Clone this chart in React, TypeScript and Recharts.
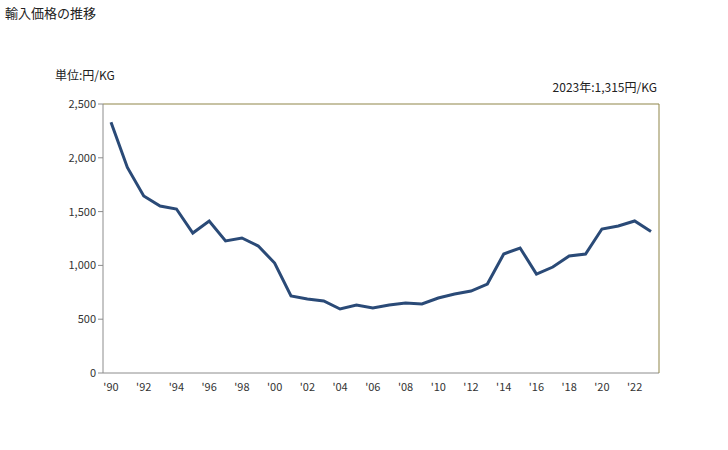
import { LineChart, Line, XAxis, YAxis } from "recharts"

// 輸入価格 (円/KG)
const years = [
  "1990", "1991", "1992", "1993", "1994", "1995", "1996", "1997", "1998", "1999",
  "2000", "2001", "2002", "2003", "2004", "2005", "2006", "2007", "2008", "2009",
  "2010", "2011", "2012", "2013", "2014", "2015", "2016", "2017", "2018", "2019",
  "2020", "2021", "2022", "2023",
]
const prices = [
  2330, 1910, 1645, 1552, 1524, 1301, 1413, 1227, 1255, 1180,
  1022, 716, 688, 670, 595, 632, 604, 632, 650, 641,
  697, 734, 762, 827, 1106, 1162, 920, 985, 1087, 1106,
  1338, 1366, 1413, 1315,
]
const yTicks = [0, 500, 1000, 1500, 2000, 2500]

const data = years.map((year, i) => ({ year, price: prices[i] }))

const font = "'Noto Sans CJK JP', 'Noto Sans', sans-serif"
const axisGray = "#8c8c8c"
const olive = "#8f8548"

export default function App() {
  return (
    <div style={{ position: "absolute", left: 0, top: 0, width: 728, height: 450, background: "#fff", fontFamily: font }}>
      <div style={{ position: "absolute", left: 5, top: 3, fontSize: 13, color: "#222" }}>輸入価格の推移</div>
      <div style={{ position: "absolute", left: 55, top: 66, fontSize: 12, color: "#222" }}>単位:円/KG</div>
      <div style={{ position: "absolute", right: 71, top: 78, fontSize: 12, color: "#222" }}>2023年:1,315円/KG</div>
      <LineChart width={728} height={450} data={data} margin={{ top: 103, right: 68, bottom: 47, left: 53 }}>
        <XAxis
          dataKey="year"
          interval={1}
          tickFormatter={(v) => "'" + String(v).slice(2)}
          tickLine={false}
          stroke={axisGray}
          tick={{ fontSize: 11, fill: "#333", fontFamily: font }}
          padding={{ left: 8, right: 8 }}
          height={30}
          tickMargin={4}
        />
        <XAxis
          xAxisId="top"
          orientation="top"
          dataKey="year"
          height={1}
          tick={false}
          tickLine={false}
          axisLine={{ stroke: olive }}
          padding={{ left: 8, right: 8 }}
        />
        <YAxis
          domain={[0, 2500]}
          ticks={yTicks}
          tickFormatter={(v) => Number(v).toLocaleString("en-US")}
          stroke={axisGray}
          tickSize={5}
          width={50}
          tick={{ fontSize: 11, fill: "#333", fontFamily: font }}
        />
        <YAxis
          yAxisId="right"
          orientation="right"
          domain={[0, 2500]}
          width={1}
          tick={false}
          tickLine={false}
          axisLine={{ stroke: olive }}
        />
        <Line
          type="linear"
          dataKey="price"
          stroke="#2a4a77"
          strokeWidth={3}
          dot={false}
          isAnimationActive={false}
        />
      </LineChart>
    </div>
  )
}
